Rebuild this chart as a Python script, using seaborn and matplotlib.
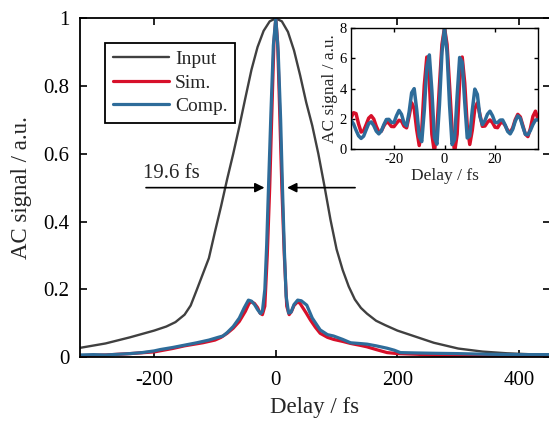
import numpy as np
import pandas as pd
import seaborn as sns
import matplotlib.pyplot as plt

# main panel: AC traces
input_x = [-322, -280, -240, -200, -180, -165, -150, -140, -130, -120, -110, -100, -90, -80, -70, -60,
           -50, -40, -30, -20, -10, 0, 10, 20, 30, 40, 50, 60, 70, 80, 90, 100, 110, 120, 130, 140,
           150, 165, 180, 200, 230, 260, 300, 340, 380, 420, 451]
input_y = [0.027, 0.040, 0.058, 0.078, 0.090, 0.103, 0.125, 0.152, 0.198, 0.245, 0.292, 0.370, 0.445,
           0.525, 0.600, 0.680, 0.765, 0.848, 0.915, 0.963, 0.991, 1.000, 0.991, 0.960, 0.905, 0.832,
           0.752, 0.683, 0.600, 0.505, 0.405, 0.318, 0.257, 0.208, 0.170, 0.145, 0.128, 0.107, 0.094,
           0.078, 0.060, 0.042, 0.025, 0.016, 0.011, 0.008, 0.007]

sim_x = [-322, -280, -240, -200, -170, -150, -120, -100, -90, -80, -70, -60, -50, -44, -40, -35, -30,
         -26, -22, -18, -14, -10, -6, -3, 0, 3, 6, 10, 14, 18, 22, 26, 30, 36, 40, 50, 57, 65, 73, 85,
         95, 110, 123, 140, 150, 165, 183, 200, 233, 260, 300, 350, 400, 451]
sim_y = [0.004, 0.006, 0.010, 0.015, 0.025, 0.033, 0.042, 0.050, 0.058, 0.070, 0.085, 0.105, 0.135,
         0.158, 0.163, 0.158, 0.146, 0.130, 0.125, 0.150, 0.300, 0.500, 0.750, 0.930, 1.000, 0.930,
         0.750, 0.500, 0.300, 0.150, 0.125, 0.135, 0.152, 0.163, 0.158, 0.130, 0.109, 0.088, 0.070,
         0.058, 0.052, 0.046, 0.040, 0.034, 0.030, 0.022, 0.013, 0.010, 0.008, 0.005, 0.004, 0.003,
         0.003, 0.002]

comp_x = [-322, -300, -280, -260, -240, -220, -200, -190, -170, -150, -130, -110, -95, -87, -80, -70,
          -60, -52, -45, -40, -35, -30, -25, -22, -18, -15, -12, -8, -4, 0, 4, 8, 11, 14, 17, 21, 25,
          30, 36, 42, 51, 60, 73, 85, 95, 110, 123, 137, 150, 165, 183, 195, 205, 230, 260, 300, 350,
          400, 451]
comp_y = [0.006, 0.007, 0.006, 0.008, 0.010, 0.013, 0.018, 0.022, 0.028, 0.035, 0.042, 0.050, 0.058,
          0.062, 0.072, 0.090, 0.115, 0.145, 0.168, 0.165, 0.155, 0.140, 0.128, 0.135, 0.200, 0.330,
          0.500, 0.720, 0.920, 1.000, 0.900, 0.700, 0.500, 0.320, 0.180, 0.130, 0.132, 0.155, 0.168,
          0.166, 0.153, 0.115, 0.080, 0.066, 0.062, 0.052, 0.042, 0.040, 0.038, 0.033, 0.026, 0.020,
          0.013, 0.012, 0.011, 0.010, 0.008, 0.007, 0.007]

# inset: fringe-resolved trace, 1 fs steps
inset_x = list(range(-37, 38))
inset_sim = [2.05, 2.40, 2.34, 1.65, 1.12, 1.21, 1.61, 2.04, 2.20, 1.98, 1.50, 1.13, 1.18, 1.53, 1.79,
             1.71, 1.49, 1.48, 1.70, 1.90, 1.84, 1.51, 1.40, 2.18, 3.05, 2.69, 1.27, 0.23, 1.26, 4.21,
             6.08, 4.50, 0.98, -0.20, 1.28, 4.18, 6.92, 8.00, 6.92, 4.18, 1.28, -0.20, 0.98, 4.50,
             6.08, 4.36, 1.52, 0.30, 1.25, 2.69, 3.05, 2.28, 1.50, 1.52, 1.77, 1.92, 1.74, 1.44, 1.41,
             1.69, 1.79, 1.55, 1.23, 1.10, 1.40, 1.94, 2.29, 2.12, 1.55, 0.98, 0.82, 1.36, 2.16, 2.50,
             1.95]
inset_comp = [1.91, 1.66, 1.24, 0.87, 0.70, 0.85, 1.27, 1.68, 1.79, 1.55, 1.18, 1.00, 1.19, 1.61, 1.95,
              1.96, 1.76, 1.75, 2.20, 2.55, 2.29, 1.71, 1.53, 2.45, 3.72, 3.99, 2.59, 0.84, 0.49, 2.55,
              5.41, 6.22, 3.86, 0.74, 0.32, 2.91, 6.41, 8.00, 6.41, 2.91, 0.29, 0.64, 3.49, 6.05, 5.75,
              3.11, 0.73, 0.86, 2.56, 3.96, 3.61, 2.16, 1.61, 1.88, 2.30, 2.50, 2.20, 1.76, 1.74, 1.91,
              1.92, 1.59, 1.16, 1.00, 1.30, 1.84, 2.19, 2.02, 1.46, 0.97, 0.94, 1.23, 1.62, 1.91, 1.93]

c_input = '#404040'
c_sim = '#d7102a'
c_comp = '#2e6c9a'

sns.set_theme(style='ticks')
plt.rcParams['font.family'] = ['Liberation Serif', 'DejaVu Serif']
plt.rcParams['axes.unicode_minus'] = False

fig = plt.figure(figsize=(5.49, 4.21), dpi=100)
ax = fig.add_axes([80 / 549, 64 / 421, 470 / 549, 338.7 / 421])

sns.lineplot(x=input_x, y=input_y, ax=ax, color=c_input, lw=1.7, label='Input')
sns.lineplot(x=sim_x, y=sim_y, ax=ax, color=c_sim, lw=2.3, label='Sim.')
sns.lineplot(x=comp_x, y=comp_y, ax=ax, color=c_comp, lw=2.3, label='Comp.')

ax.set_xlim(-322, 451)
ax.set_ylim(0, 1)
ax.set_xticks([-200, 0, 200, 400])
ax.set_yticks([0, 0.2, 0.4, 0.6, 0.8, 1])
ax.set_yticklabels(['0', '0.2', '0.4', '0.6', '0.8', '1'])
ax.tick_params(direction='in', top=True, right=True, labelsize=15, length=5, width=1.2,
               colors='black')
ax.tick_params(axis='x', pad=10)
ax.tick_params(axis='y', pad=7.5)
for s in ax.spines.values():
    s.set_linewidth(1.3)
    s.set_color('black')
ax.set_xlabel('Delay / fs', fontsize=16.5, labelpad=5)
ax.set_ylabel('AC signal / a.u.', fontsize=16.5, labelpad=8)

leg = ax.legend(loc='upper left', bbox_to_anchor=(0.053, 0.928), borderaxespad=0, fontsize=14,
                handlelength=2.9, handletextpad=0.3, labelspacing=0.3, fancybox=False,
                edgecolor='black', framealpha=1, borderpad=0.4)
leg.get_frame().set_linewidth(1.3)

# FWHM arrows
ax.annotate('', xy=(-14, 0.5), xytext=(-218, 0.5),
            arrowprops=dict(arrowstyle='-|>', color='black', lw=1.2, mutation_scale=14))
ax.annotate('', xy=(14, 0.5), xytext=(135, 0.5),
            arrowprops=dict(arrowstyle='-|>', color='black', lw=1.2, mutation_scale=14))
ax.text(-218, 0.515, '19.6 fs', fontsize=15, ha='left', va='bottom')

# inset
ins = fig.add_axes([351 / 549, (421 - 149) / 421, 187 / 549, 121 / 421])
ins.set_facecolor('white')
sns.lineplot(x=inset_x, y=inset_sim, ax=ins, color=c_sim, lw=2.5)
sns.lineplot(x=inset_x, y=inset_comp, ax=ins, color=c_comp, lw=2.5)
ins.set_xlim(-37, 37)
ins.set_ylim(0, 8)
ins.set_xticks([-20, 0, 20])
ins.set_yticks([0, 2, 4, 6, 8])
ins.tick_params(direction='in', top=True, right=True, labelsize=10.5, length=3, width=1.0, pad=3,
                colors='black')
for s in ins.spines.values():
    s.set_linewidth(1.0)
    s.set_color('black')
ins.set_xlabel('Delay / fs', fontsize=12.5, labelpad=1)
ins.set_ylabel('AC signal / a.u.', fontsize=12.5, labelpad=1)

fig.savefig('out.png', dpi=100)
